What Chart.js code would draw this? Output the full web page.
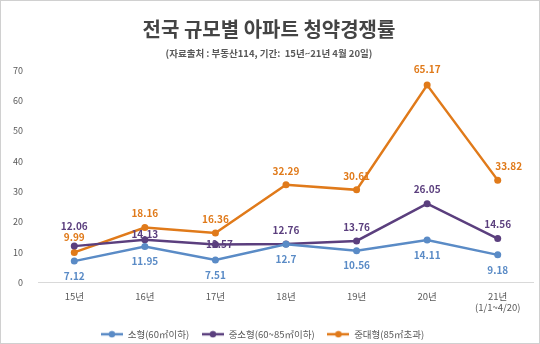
<!DOCTYPE html>
<html>
<head>
<meta charset="utf-8">
<script src="https://cdn.jsdelivr.net/npm/chart.js@4"></script>
<style>
  html, body { margin: 0; padding: 0; background: #fff; }
  #wrap { position: relative; width: 538px; height: 342px; border: 1px solid #d0d0d0; overflow: hidden; }
  #inner { position: relative; width: 538px; height: 348px; }
</style>
</head>
<body>
<div id="wrap"><div id="inner"><canvas id="chart"></canvas></div></div>
<script>
const years = [['15년', ' '], ['16년', ' '], ['17년', ' '], ['18년', ' '], ['19년', ' '], ['20년', ' '], ['21년', '(1/1~4/20)']];
const small = [7.12, 11.95, 7.51, 12.7, 10.56, 14.11, 9.18];
const midSmall = [12.06, 14.13, 12.57, 12.76, 13.76, 26.05, 14.56];
const midLarge = [9.99, 18.16, 16.36, 32.29, 30.61, 65.17, 33.82];
const yTicks = [0, 10, 20, 30, 40, 50, 60, 70];

const FONT = "'Noto Sans CJK KR', 'Noto Sans', sans-serif";

// little line-with-dot marker for the legend
function legendMarker(color) {
    const c = document.createElement('canvas');
    c.width = 22; c.height = 8;
    const g = c.getContext('2d');
    g.strokeStyle = color;
    g.lineWidth = 2.5;
    g.beginPath(); g.moveTo(0, 4); g.lineTo(22, 4); g.stroke();
    g.fillStyle = color;
    g.beginPath(); g.arc(11, 4, 3.2, 0, Math.PI * 2); g.fill();
    return c;
}

// value labels: labelDy is the offset of the text centre from the point
const valueLabels = {
    id: 'valueLabels',
    afterDatasetsDraw(chart) {
        const ctx = chart.ctx;
        ctx.save();
        ctx.font = 'bold 10px ' + FONT;
        ctx.textAlign = 'center';
        ctx.textBaseline = 'middle';
        chart.data.datasets.forEach((ds, i) => {
            const meta = chart.getDatasetMeta(i);
            meta.data.forEach((pt, j) => {
                const off = (ds.labelShift && ds.labelShift[j]) || [0, 0];
                ctx.fillStyle = ds.labelColor;
                ctx.fillText(String(ds.data[j]), pt.x + off[0], pt.y + ds.labelDy + off[1]);
            });
        });
        ctx.restore();
    }
};

new Chart(document.getElementById('chart'), {
    type: 'line',
    data: {
        labels: years,
        datasets: [
            {
                label: '소형(60㎡이하)',
                data: small,
                borderColor: '#5a8bc6',
                backgroundColor: '#5a8bc6',
                labelColor: '#5a8bc6',
                labelDy: 15
            },
            {
                label: '중소형(60~85㎡이하)',
                data: midSmall,
                borderColor: '#5b3f7e',
                backgroundColor: '#5b3f7e',
                labelColor: '#5b3f7e',
                labelDy: -14,
                labelShift: [[0, -6], [0, 8], [4, 14]]
            },
            {
                label: '중대형(85㎡초과)',
                data: midLarge,
                borderColor: '#e07a1a',
                backgroundColor: '#e07a1a',
                labelColor: '#e07a1a',
                labelDy: -14,
                labelShift: [[0, -1], null, null, null, null, [0, -2], [11, 0]]
            }
        ]
    },
    options: {
        responsive: true,
        maintainAspectRatio: false,
        animation: false,
        layout: { padding: { left: 4, right: 6, top: 12, bottom: 0 } },
        elements: {
            line: { borderWidth: 2.5, tension: 0 },
            point: { radius: 3.5, borderWidth: 0 }
        },
        plugins: {
            title: {
                display: true,
                text: '전국 규모별 아파트 청약경쟁률',
                color: '#444',
                font: { family: FONT, size: 20, weight: 'bold' },
                padding: { top: 4, bottom: 4 }
            },
            subtitle: {
                display: true,
                text: '(자료출처 : 부동산114, 기간:  15년~21년 4월 20일)',
                color: '#595959',
                font: { family: FONT, size: 9.5, weight: 'bold' },
                padding: { top: 3, bottom: 11 }
            },
            legend: {
                position: 'bottom',
                labels: {
                    usePointStyle: true,
                    pointStyleWidth: 22,
                    color: '#595959',
                    font: { family: FONT, size: 9.5 },
                    padding: 0,
                    generateLabels(chart) {
                        const items = Chart.defaults.plugins.legend.labels.generateLabels(chart);
                        items.forEach(it => {
                            it.pointStyle = legendMarker(chart.data.datasets[it.datasetIndex].borderColor);
                            it.text = it.text + '      ';
                        });
                        return items;
                    }
                }
            },
            tooltip: { enabled: false }
        },
        scales: {
            x: {
                offset: true,
                grid: { display: false },
                border: { color: '#d9d9d9' },
                ticks: { color: '#595959', font: { family: FONT, size: 9.5 }, padding: 0, crossAlign: 'near' },
                afterFit: scale => { scale.height += 16; }
            },
            y: {
                min: 0,
                max: 70,
                afterBuildTicks: axis => { axis.ticks = yTicks.map(v => ({ value: v })); },
                grid: { display: false },
                border: { display: false },
                ticks: { color: '#595959', font: { family: FONT, size: 9 }, padding: 8 }
            }
        }
    },
    plugins: [valueLabels]
});
</script>
</body>
</html>
